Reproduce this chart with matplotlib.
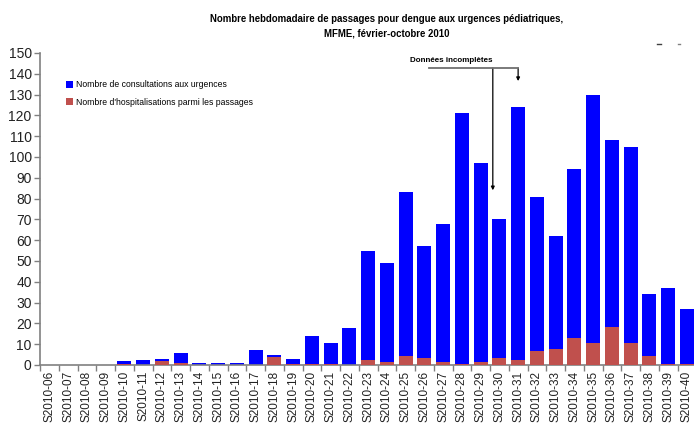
import numpy as np
import matplotlib
matplotlib.use('Agg')
import matplotlib.pyplot as plt
from matplotlib.lines import Line2D

plt.rcParams['font.family'] = ['Liberation Sans', 'DejaVu Sans']

# Weekly data, weeks S2010-06 .. S2010-40
weeks = ['S2010-%02d' % w for w in range(6, 41)]
consultations = [0, 0, 0, 0, 2, 2.5, 3, 6, 1, 1, 1, 7, 5, 3, 14, 10.5, 18,
                 55, 49, 83, 57, 68, 121, 97, 70, 124, 81, 62, 94, 130, 108,
                 105, 34, 37, 27]
hospitalisations = [0, 0, 0, 0, 0.5, 0, 2, 1, 0, 0, 0, 0, 4, 0.5, 0.5, 0.5, 0,
                    2.5, 1.5, 4.5, 3.5, 1.5, 0.5, 1.5, 3.5, 2.5, 6.5, 7.5, 13,
                    10.5, 18.5, 10.5, 4.5, 0.5, 0.5]

title = ("Nombre hebdomadaire de passages pour dengue aux urgences pédiatriques,\n"
         "MFME, février-octobre 2010")
label_consult = "Nombre de consultations aux urgences"
label_hosp = "Nombre d'hospitalisations parmi les passages"

fig = plt.figure(figsize=(6.94, 4.25), dpi=100)
ax = fig.add_axes([40 / 694, 1 - 365 / 425, 656.25 / 694, 312 / 425])

x = np.arange(len(weeks))
ax.bar(x, consultations, width=0.75, color='#0000FF', label=label_consult, zorder=2)
ax.bar(x, hospitalisations, width=0.75, color='#C0504D', label=label_hosp, zorder=3)

ax.set_xlim(-0.5, len(weeks) - 0.5)
ax.set_ylim(0, 150)
ax.set_yticks(np.arange(0, 151, 10))
ax.tick_params(axis='y', labelsize=10, length=4, width=1, color='#808080',
               labelcolor='#222222', pad=2)

# labels centred under bars, tick marks between bars
ax.set_xticks(x)
ax.set_xticklabels(weeks, rotation=90, fontsize=8.5, color='#222222', va='top')
ax.tick_params(axis='x', length=0, pad=4)
ax.set_xticks(np.arange(len(weeks) + 1) - 0.5, minor=True)
ax.tick_params(axis='x', which='minor', length=4, width=1, color='#808080')

for side in ['top', 'right']:
    ax.spines[side].set_visible(False)
for side in ['left', 'bottom']:
    ax.spines[side].set_color('#808080')
    ax.spines[side].set_linewidth(1.2)

fig.text(0.5 * (212 + 562) / 694, 1 - 14 / 425, title, ha='center', va='top',
         fontsize=6.9, fontweight='bold', linespacing=1.55)

leg = ax.legend(loc='upper left', bbox_to_anchor=(0.028, 0.937), frameon=False,
                fontsize=6.2, handlelength=0.8, handleheight=0.8,
                handletextpad=0.3, labelspacing=0.95)

# "Données incomplètes" annotation
ax.text(21.45, 146.3, "Données incomplètes", fontsize=5.8, fontweight='bold',
        ha='center', va='center', clip_on=False)
ax.plot([20.25, 25.0], [142.8, 142.8], color='#707070', lw=1.3, clip_on=False, zorder=4)
ax.annotate('', xy=(23.65, 84), xytext=(23.65, 142.8),
            arrowprops=dict(arrowstyle='-|>', color='black', lw=0.9,
                            mutation_scale=5, shrinkA=0, shrinkB=0),
            annotation_clip=False)
ax.annotate('', xy=(25.0, 136.5), xytext=(25.0, 142.8),
            arrowprops=dict(arrowstyle='-|>', color='black', lw=0.9,
                            mutation_scale=5, shrinkA=0, shrinkB=0),
            annotation_clip=False)

# small stray marks at top right
fig.add_artist(Line2D([657 / 694, 661 / 694], [1 - 44 / 425] * 2, color='#404040', lw=1))
fig.add_artist(Line2D([678 / 694, 680 / 694], [1 - 44 / 425] * 2, color='#808080', lw=1))

fig.savefig('out.png', dpi=100)
